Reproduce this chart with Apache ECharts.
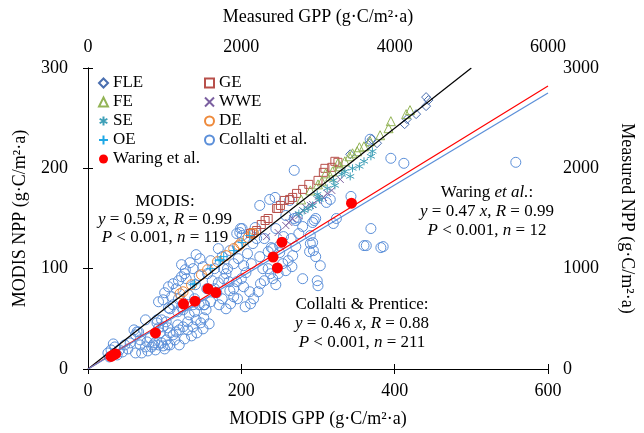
<!DOCTYPE html>
<html>
<head>
<meta charset="utf-8">
<script src="https://cdn.jsdelivr.net/npm/echarts@6/dist/echarts.min.js"></script>
<style>
  html, body { margin: 0; padding: 0; background: #fff; }
  #chart { width: 644px; height: 433px; }
</style>
</head>
<body>
<div id="chart"></div>
<script>
// MODIS GPP (x) vs MODIS NPP (y), g C / m2 / a
const fle = [[441,271],[444,268],[441,262],[428,254],[416,249],[413,244],[377,225],[367,225],[370,229],[342,214]]
const ge = [[212,135],[215,136],[220,138],[226,144],[231,148],[235,150],[246,160],[248,160],[251,163],[256,168],
  [263,169],[267,171],[272,175],[280,179],[288,184],[300,188],[307,196],[309,200],[318,201],[322,207],[326,206]]
const fe = [[420,258],[415,254],[395,247],[392,240],[381,233],[368,227],[360,222],[354,221],[351,217],[345,215],
  [341,212],[335,207],[329,202],[326,205],[319,197],[316,192],[310,195],[305,187],[300,184],[290,178],[278,169]]
const wwe = [[233,132],[248,136],[258,143],[262,146],[267,150],[275,153],[280,158],[284,161],[290,163],[293,164],
  [300,168],[307,171],[312,175],[318,178],[329,189]]
const se = [[369,212],[371,217],[360,207],[354,202],[345,200],[342,192],[335,197],[331,194],[322,183],[320,188],
  [312,180],[302,169],[301,171],[299,174],[293,163],[287,160],[282,158],[275,155]]
const de = [[120,75],[124,77],[135,84],[148,94],[156,99],[169,107],[180,113],[190,120],[197,123],[199,125],
  [209,131],[214,135],[216,135]]
const oe = [[137,84],[139,85],[160,100],[171,108],[173,109],[177,112],[190,118],[201,126],[211,133]]
const collalti = [
  [26,16],[30,19],[41,19],[28,12],[35,22],[38,14],[45,17],[33,25],[48,24],[52,20],
  [55,26],[60,39],[62,34],[64,37],[68,29],[62,16],[70,16],[68,24],[75,22],[83,22],
  [85,24],[87,26],[92,24],[96,26],[77,27],[81,31],[94,36],[92,41],[98,42],[90,46],
  [96,49],[75,49],[66,37],[78,18],[88,19],[100,20],[104,24],[98,23],
  [102,47],[104,41],[107,36],[111,34],[115,37],[117,44],[119,39],[124,42],[113,29],[102,29],
  [107,24],[119,24],[130,39],[137,42],[130,47],[141,49],[147,46],[151,51],[132,54],[139,57],
  [124,59],[117,57],[111,64],[107,60],[145,64],[151,64],[154,59],[137,64],[126,30],[135,33],
  [142,36],[150,40],[158,45],[105,61],[122,62],[92,67],[98,69],[90,49],
  [105,82],[111,85],[122,92],[126,95],[128,90],[109,72],[118,70],[131,74],[139,70],[152,64],
  [160,67],[171,64],[118,88],[137,100],[150,102],[165,100],[177,90],[177,100],[184,87],[190,72],
  [211,77],[203,82],[122,104],[127,99],[146,110],[141,114],[100,76],[115,80],[140,84],[155,80],
  [162,88],[168,76],[145,93],[156,95],[133,106],[160,108],[170,86],
  [190,80],[194,87],[185,118],[199,140],[198,136],[201,133],[218,141],[213,105],[224,112],[222,77],
  [216,70],[212,65],[228,100],[235,117],[238,95],[180,60],[175,70],[186,65],[195,70],[200,90],
  [206,96],[182,100],[190,105],[196,110],[208,115],[215,125],[220,130],[175,112],[170,120],[230,88],
  [185,78],[205,62],[225,85],[195,122],[180,95],[165,80],
  [241,90],[245,84],[261,108],[258,98],[250,123],[267,113],[271,122],[280,90],[299,88],[300,83],
  [303,103],[297,112],[294,118],[266,102],[254,105],[239,121],[241,120],[250,116],[289,117],[290,125],
  [290,133],[293,126],[203,103],[201,140],[194,135],[258,153],[269,150],[271,148],[293,146],[297,150],
  [316,169],[311,166],[320,145],[324,150],[224,163],[237,169],[244,171],[263,168],[269,198],[273,151],
  [295,148],[343,172],[369,140],[363,123],[382,121],[385,122],[360,123],[395,210],[412,205],[558,206],
  [368,229],[230,130],[245,140],[255,132],[265,130],[275,135],[280,142],[235,100],[248,95]
]
const waring = [[30,12.5],[33,14],[36,15],[88,36],[124.5,65],[139.5,67.6],[156.5,80],[166.7,76.2],
  [241.4,111.6],[247,100.7],[253,126.4],[343.7,165.3]]

// regression lines, end points
const modisLine = [[0,0],[500,300]]
const waringLine = [[0,0],[600,282]]
const collaltiLine = [[0,0],[600,275]]

const FONT = 'Liberation Serif'
const xMark = 'path://M0,0L10,10M10,0L0,10'
const asterisk = 'path://M5,0L5,10M0.7,2.5L9.3,7.5M0.7,7.5L9.3,2.5'
const plus = 'path://M5,0L5,10M0,5L10,5'

function scatter(name, data, symbol, size, color, filled) {
  return {
    name: name,
    type: 'scatter',
    data: data,
    symbol: symbol,
    symbolSize: size,
    silent: true,
    itemStyle: filled
      ? { color: color, opacity: 1 }
      : { color: 'rgba(255,255,255,0)', borderColor: color, borderWidth: 1, opacity: 1 }
  }
}

function fitLine(data, color) {
  return {
    type: 'line',
    data: data,
    symbol: 'none',
    silent: true,
    lineStyle: { color: color, width: 1.2 },
    z: 3
  }
}

const axisCommon = {
  type: 'value',
  splitLine: { show: false },
  axisLine: { show: true, lineStyle: { color: '#000', width: 1 } },
  axisTick: { show: true, inside: true, length: 5, lineStyle: { color: '#000' } },
  nameLocation: 'middle',
  nameTextStyle: { fontFamily: FONT, fontSize: 18, color: '#000' }
}
function labels(margin) {
  return { color: '#000', fontFamily: FONT, fontSize: 18, margin: margin, formatter: v => String(v) }
}

const legendCommon = {
  orient: 'vertical',
  top: 74,
  padding: 0,
  itemWidth: 9,
  itemHeight: 9,
  itemGap: 1,
  selectedMode: false,
  textStyle: { fontFamily: FONT, fontSize: 17, color: '#000', lineHeight: 18 }
}

const rich = {
  i: { fontFamily: FONT, fontSize: 17, fontStyle: 'italic', fill: '#000' },
  n: { fontFamily: FONT, fontSize: 17, fill: '#000' }
}
function note(x, y, text) {
  return {
    type: 'text',
    x: x,
    y: y,
    silent: true,
    style: {
      text: text,
      rich: rich,
      fontFamily: FONT,
      fontSize: 17,
      fill: '#000',
      align: 'center',
      verticalAlign: 'middle'
    }
  }
}

const chart = echarts.init(document.getElementById('chart'))
chart.setOption({
  animation: false,
  backgroundColor: '#fff',
  textStyle: { fontFamily: FONT },
  grid: { left: 88, right: 87, top: 68, bottom: 62 },
  xAxis: [
    Object.assign({}, axisCommon, {
      position: 'bottom', min: 0, max: 600, interval: 200,
      axisLabel: labels(13),
      name: 'MODIS GPP (g·C/m²·a)', nameGap: 41
    }),
    Object.assign({}, axisCommon, {
      position: 'top', min: 0, max: 6000, interval: 2000,
      axisLabel: labels(12),
      name: 'Measured GPP (g·C/m²·a)', nameGap: 42
    })
  ],
  yAxis: [
    Object.assign({}, axisCommon, {
      position: 'left', min: 0, max: 300, interval: 100,
      axisLabel: labels(20),
      name: 'MODIS NPP (g·C/m²·a)', nameGap: 59
    }),
    Object.assign({}, axisCommon, {
      position: 'right', min: 0, max: 3000, interval: 1000,
      axisLabel: labels(15),
      name: 'Measured NPP (g·C/m²·a)', nameGap: 70, nameRotate: -90
    })
  ],
  legend: [
    Object.assign({}, legendCommon, { left: 98, data: ['FLE', 'FE', 'SE', 'OE', 'Waring et al.'] }),
    Object.assign({}, legendCommon, { left: 204, data: ['GE', 'WWE', 'DE', 'Collalti et al.'] })
  ],
  series: [
    scatter('Collalti et al.', collalti, 'circle', 10, '#5b8fd9', false),
    scatter('FLE', fle, 'diamond', 9, '#4a6fb0', false),
    scatter('GE', ge, 'rect', 8, '#b8504b', false),
    scatter('FE', fe, 'triangle', 9, '#93b456', false),
    scatter('WWE', wwe, xMark, 7, '#7b5fa0', false),
    scatter('SE', se, asterisk, 8, '#3fa0b8', false),
    scatter('DE', de, 'circle', 10, '#ee8a3c', false),
    scatter('OE', oe, plus, 9, '#1ea8e6', false),
    fitLine(modisLine, '#000'),
    fitLine(waringLine, '#ff0000'),
    fitLine(collaltiLine, '#5b8fd9'),
    Object.assign(scatter('Waring et al.', waring, 'circle', 11, '#ff0000', true), { z: 4 })
  ],
  graphic: [
    note(165, 202, 'MODIS:'),
    note(165, 220, '{i|y}{n| = 0.59 }{i|x}{n|, }{i|R}{n| = 0.99}'),
    note(165, 238, '{i|P}{n| < 0.001, }{i|n}{n| = 119}'),
    note(487, 193, '{n|Waring }{i|et al.}{n|:}'),
    note(487, 212, '{i|y}{n| = 0.47 }{i|x}{n|, }{i|R}{n| = 0.99}'),
    note(487, 231, '{i|P}{n| < 0.001, }{i|n}{n| = 12}'),
    note(362, 305, 'Collalti & Prentice:'),
    note(362, 324, '{i|y}{n| = 0.46 }{i|x}{n|, }{i|R}{n| = 0.88}'),
    note(362, 343, '{i|P}{n| < 0.001, }{i|n}{n| = 211}')
  ]
})
</script>
</body>
</html>
